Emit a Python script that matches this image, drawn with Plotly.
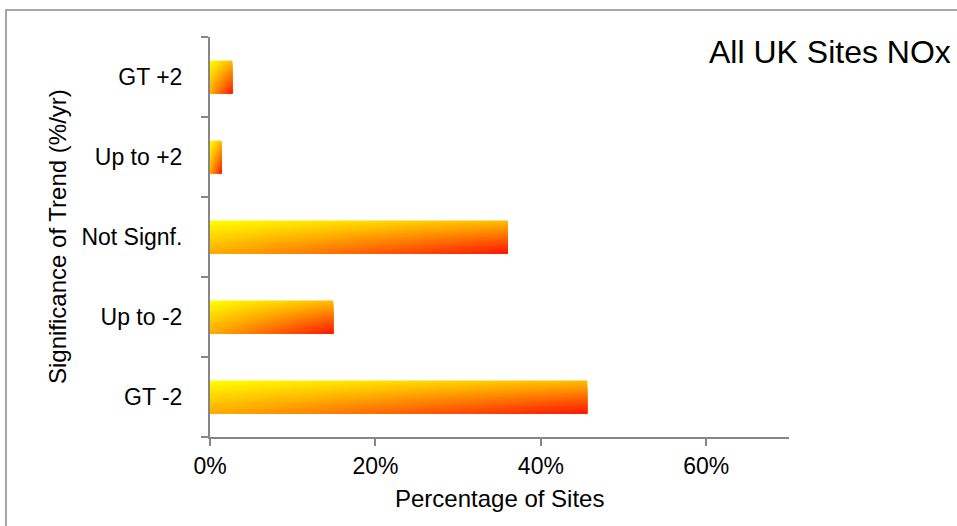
import plotly.graph_objects as go

# ---- data ----
categories = ["GT -2", "Up to -2", "Not Signf.", "Up to +2", "GT +2"]   # bottom to top
values_pct = [45.6, 14.9, 36.0, 1.4, 2.7]
x_tick_vals = [0, 20, 40, 60]
title_text = "All UK Sites NOx"
x_title = "Percentage of Sites"
y_title = "Significance of Trend (%/yr)"

# ---- style ----
W, H = 957, 526
L, R, T, B = 210, 168, 37, 89
PW, PH = W - L - R, H - T - B
AXIS_COL = "#868686"
FONT = "Liberation Sans"
BAR_HALF = 0.205
N_SLICES = 24
# green channel at corners of each bar (red=255, blue=0): TL, TR, BL, BR
G_TL, G_TR, G_BL, G_BR = 255, 190, 170, 20


def px_x(p):
    return (p - L) / PW


def px_y(p):
    return (H - B - p) / PH


fig = go.Figure()

for i, (cat, v) in enumerate(zip(categories, values_pct)):
    top = i + BAR_HALF
    bot = i - BAR_HALF
    hgt = top - bot
    for k in range(N_SLICES):
        vv = (k + 0.5) / N_SLICES
        gl = round(G_TL + (G_BL - G_TL) * vv)
        gr = round(G_TR + (G_BR - G_TR) * vv)
        yt = top - hgt * k / N_SLICES
        fig.add_trace(go.Scatter(
            x=[0, v, v, 0, 0],
            y=[yt, yt, bot, bot, yt],
            mode="none",
            fill="toself",
            fillgradient=dict(
                type="horizontal",
                colorscale=[[0, f"rgb(255,{gl},0)"], [1, f"rgb(255,{gr},0)"]],
            ),
            hoverinfo="skip",
            showlegend=False,
        ))

fig.update_layout(
    width=W, height=H,
    margin=dict(l=L, r=R, t=T, b=B, pad=0),
    paper_bgcolor="white",
    plot_bgcolor="white",
    font=dict(family=FONT, size=23, color="black"),
    showlegend=False,
    xaxis=dict(
        range=[0, 70],
        tickvals=x_tick_vals,
        ticktext=[f"{t}%" for t in x_tick_vals],
        showline=True, linecolor=AXIS_COL, linewidth=2,
        ticks="outside", ticklen=7, tickwidth=2, tickcolor=AXIS_COL,
        showgrid=False, zeroline=False,
        tickfont=dict(family=FONT, size=23, color="black"),
        fixedrange=True,
    ),
    yaxis=dict(
        range=[-0.5, 4.5],
        tickvals=list(range(len(categories))),
        ticktext=categories,
        showline=True, linecolor=AXIS_COL, linewidth=2,
        ticks="outside", ticklen=21, tickwidth=1, tickcolor="rgba(0,0,0,0)",
        minor=dict(
            tickmode="array",
            tickvals=[j - 0.5 for j in range(len(categories) + 1)],
            ticks="outside", ticklen=7, tickwidth=2, tickcolor=AXIS_COL,
            showgrid=False,
        ),
        showgrid=False, zeroline=False,
        tickfont=dict(family=FONT, size=23, color="black"),
        fixedrange=True,
    ),
    shapes=[dict(
        type="rect", xref="paper", yref="paper",
        x0=px_x(6), x1=px_x(W + 10), y0=px_y(H + 10), y1=px_y(10),
        line=dict(color="#898989", width=1.5),
        fillcolor="rgba(0,0,0,0)", layer="below",
    )],
    annotations=[
        dict(text=title_text, xref="paper", yref="paper",
             x=px_x(707), y=px_y(52), xanchor="left", yanchor="middle",
             showarrow=False, font=dict(family=FONT, size=32, color="black")),
        dict(text=x_title, xref="paper", yref="paper",
             x=0.5, y=px_y(498), xanchor="center", yanchor="middle",
             showarrow=False, font=dict(family=FONT, size=24, color="black")),
        dict(text=y_title, xref="paper", yref="paper",
             x=px_x(57), y=0.5, xanchor="center", yanchor="middle",
             textangle=-90,
             showarrow=False, font=dict(family=FONT, size=24, color="black")),
    ],
)

fig.write_html("out.html")
